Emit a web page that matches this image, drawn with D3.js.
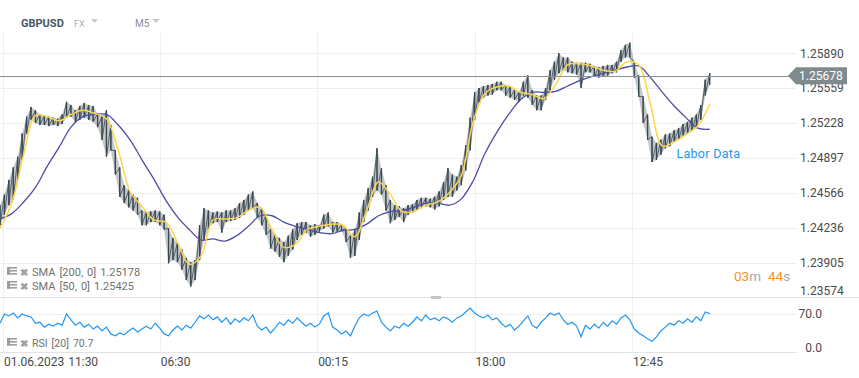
<!DOCTYPE html>
<html>
<head>
<meta charset="utf-8">
<script src="https://cdn.jsdelivr.net/npm/d3@7"></script>
<style>
  body { margin: 0; background: #fff; }
  svg text { font-family: Roboto, "Noto Sans", sans-serif; }
</style>
</head>
<body>
<svg width="859" height="378"></svg>
<script>
// ---- data (GBPUSD, M5) ----
const symbol = "GBPUSD";
const market = "FX";
const interval = "M5";
const lastPrice = 1.25678;
const sma200Last = 1.25178;
const sma50Last = 1.25425;
const rsiLast = 70.7;

const priceTicks = [1.23574, 1.23905, 1.24236, 1.24566, 1.24897, 1.25228, 1.25559, 1.25890];
const rsiTicks = [0, 70];
// candle index of each time label (5-minute candles)
const timeCandles = [4, 216, 429, 642, 855];
const timeLabels = ["01.06.2023", "06:30", "00:15", "18:00", "12:45"];
const startTime = "11:30";

// one sample every 6 candles
const candleStep = 6;
const highs = [
  1.2445, 1.2455, 1.2469, 1.2481, 1.2491, 1.2513, 1.2529, 1.2538, 1.2535, 1.2531,
  1.2530, 1.2529, 1.2528, 1.2527, 1.2531, 1.2543, 1.2540, 1.2535, 1.2539, 1.2542,
  1.2540, 1.2539, 1.2532, 1.2529, 1.2535, 1.2521, 1.2497, 1.2481, 1.2464, 1.2459,
  1.2455, 1.2452, 1.2440, 1.2439, 1.2439, 1.2440, 1.2439, 1.2436, 1.2423, 1.2414,
  1.2409, 1.2403, 1.2395, 1.2391, 1.2393, 1.2426, 1.2442, 1.2440, 1.2438, 1.2439,
  1.2438, 1.2440, 1.2440, 1.2442, 1.2447, 1.2450, 1.2455, 1.2458, 1.2447, 1.2442,
  1.2436, 1.2422, 1.2417, 1.2414, 1.2410, 1.2416, 1.2422, 1.2428, 1.2429, 1.2429,
  1.2426, 1.2427, 1.2426, 1.2436, 1.2438, 1.2429, 1.2429, 1.2427, 1.2423, 1.2416,
  1.2422, 1.2438, 1.2450, 1.2461, 1.2472, 1.2499, 1.2480, 1.2464, 1.2450, 1.2445,
  1.2444, 1.2442, 1.2445, 1.2446, 1.2450, 1.2452, 1.2452, 1.2451, 1.2453, 1.2458,
  1.2467, 1.2480, 1.2474, 1.2472, 1.2483, 1.2502, 1.2528, 1.2552, 1.2556, 1.2558,
  1.2559, 1.2560, 1.2562, 1.2562, 1.2559, 1.2557, 1.2554, 1.2552, 1.2562, 1.2568,
  1.2554, 1.2549, 1.2549, 1.2556, 1.2573, 1.2581, 1.2589, 1.2585, 1.2585, 1.2581,
  1.2580, 1.2580, 1.2580, 1.2579, 1.2577, 1.2576, 1.2577, 1.2578, 1.2578, 1.2581,
  1.2592, 1.2597, 1.2599, 1.2581, 1.2568, 1.2548, 1.2531, 1.2510, 1.2504, 1.2507,
  1.2512, 1.2513, 1.2516, 1.2518, 1.2522, 1.2524, 1.2528, 1.2531, 1.2540, 1.2564,
  1.2570
];
const lows = [
  1.2426, 1.2436, 1.2445, 1.2450, 1.2469, 1.2488, 1.2513, 1.2526, 1.2523, 1.2521,
  1.2521, 1.2520, 1.2521, 1.2520, 1.2522, 1.2528, 1.2529, 1.2524, 1.2526, 1.2528,
  1.2526, 1.2524, 1.2519, 1.2507, 1.2491, 1.2497, 1.2474, 1.2453, 1.2447, 1.2443,
  1.2440, 1.2436, 1.2426, 1.2426, 1.2429, 1.2429, 1.2426, 1.2422, 1.2390, 1.2393,
  1.2391, 1.2384, 1.2374, 1.2368, 1.2374, 1.2393, 1.2412, 1.2422, 1.2428, 1.2429,
  1.2419, 1.2429, 1.2430, 1.2431, 1.2433, 1.2436, 1.2440, 1.2442, 1.2433, 1.2426,
  1.2417, 1.2404, 1.2401, 1.2396, 1.2391, 1.2397, 1.2403, 1.2412, 1.2417, 1.2419,
  1.2415, 1.2417, 1.2420, 1.2423, 1.2425, 1.2419, 1.2420, 1.2421, 1.2410, 1.2395,
  1.2397, 1.2412, 1.2429, 1.2440, 1.2453, 1.2459, 1.2455, 1.2440, 1.2428, 1.2431,
  1.2434, 1.2429, 1.2436, 1.2438, 1.2441, 1.2443, 1.2444, 1.2443, 1.2441, 1.2444,
  1.2450, 1.2453, 1.2453, 1.2459, 1.2464, 1.2478, 1.2497, 1.2526, 1.2542, 1.2547,
  1.2549, 1.2550, 1.2554, 1.2554, 1.2549, 1.2547, 1.2545, 1.2543, 1.2549, 1.2547,
  1.2540, 1.2535, 1.2535, 1.2545, 1.2554, 1.2564, 1.2570, 1.2573, 1.2571, 1.2570,
  1.2569, 1.2556, 1.2571, 1.2571, 1.2567, 1.2566, 1.2567, 1.2568, 1.2570, 1.2571,
  1.2581, 1.2585, 1.2585, 1.2566, 1.2548, 1.2523, 1.2507, 1.2486, 1.2488, 1.2493,
  1.2499, 1.2501, 1.2505, 1.2507, 1.2511, 1.2513, 1.2516, 1.2519, 1.2526, 1.2549,
  1.2559
];
const rsi = [
  51, 70, 66, 72, 62, 70, 66, 64, 51, 53,
  43, 49, 45, 51, 47, 70, 58, 47, 53, 43,
  49, 39, 45, 35, 43, 29, 25, 31, 27, 35,
  41, 33, 39, 45, 39, 51, 41, 29, 25, 37,
  45, 37, 47, 41, 53, 66, 60, 68, 58, 64,
  53, 62, 49, 60, 53, 62, 56, 68, 45, 37,
  43, 31, 41, 53, 47, 58, 51, 62, 53, 45,
  51, 43, 49, 66, 72, 43, 37, 29, 35, 25,
  45, 62, 70, 66, 72, 76, 53, 43, 35, 45,
  41, 51, 45, 53, 64, 56, 68, 58, 62, 56,
  64, 60, 53, 62, 66, 74, 82, 72, 66, 62,
  68, 58, 62, 51, 43, 49, 37, 45, 56, 66,
  47, 41, 53, 62, 72, 68, 72, 58, 49, 53,
  45, 23, 47, 39, 49, 41, 53, 45, 56, 49,
  62, 68, 58, 39, 31, 25, 19, 14, 23, 35,
  43, 51, 47, 56, 51, 60, 53, 64, 56, 74,
  70.7
];

// moving averages, one sample every 16 candles
const smaStep = 16;
const sma50 = [
  1.2423, 1.2447, 1.2493, 1.2530, 1.2529, 1.2525, 1.2531, 1.2535, 1.2532, 1.2527,
  1.2497, 1.2458, 1.2444, 1.2431, 1.2429, 1.2410, 1.2389, 1.2397, 1.2431, 1.2432,
  1.2433, 1.2440, 1.2443, 1.2422, 1.2405, 1.2408, 1.2422, 1.2425, 1.2427, 1.2426,
  1.2415, 1.2440, 1.2467, 1.2455, 1.2439, 1.2439, 1.2445, 1.2448, 1.2457, 1.2473,
  1.2524, 1.2551, 1.2557, 1.2558, 1.2552, 1.2550, 1.2546, 1.2560, 1.2578, 1.2579,
  1.2577, 1.2573, 1.2572, 1.2581, 1.2578, 1.2540, 1.2501, 1.2505, 1.2512, 1.2520,
  1.2541
];
const sma200 = [
  1.2432, 1.2437, 1.2448, 1.2462, 1.2482, 1.2500, 1.2519, 1.2529, 1.2531, 1.2531,
  1.2521, 1.2507, 1.2488, 1.2470, 1.2450, 1.2434, 1.2422, 1.2412, 1.2413, 1.2411,
  1.2416, 1.2425, 1.2435, 1.2435, 1.2429, 1.2425, 1.2422, 1.2419, 1.2418, 1.2421,
  1.2422, 1.2427, 1.2435, 1.2439, 1.2440, 1.2443, 1.2447, 1.2447, 1.2445, 1.2451,
  1.2468, 1.2494, 1.2514, 1.2531, 1.2545, 1.2552, 1.2552, 1.2553, 1.2558, 1.2563,
  1.2567, 1.2570, 1.2573, 1.2576, 1.2577, 1.2566, 1.2552, 1.2539, 1.2528, 1.2518,
  1.2517
];

const eventLabel = { candle: 915, price: 1.2490, text: "Labor Data" };

// ---- layout ----
const svg = d3.select("svg");
const plotRight = 791, gridRight = 797;
const mainTop = 32, mainBottom = 297, rsiBottom = 352;
const candleColor = "#37474f";
const gridColor = "#eeeeee";

const x = d3.scaleLinear().domain([0, 1070]).range([0, plotRight]);
const y = d3.scaleLinear().domain([1.23574, 1.25890]).range([297.6, 53.3]);
const yr = d3.scaleLinear().domain([0, 70]).range([348, 314]);

svg.append("defs").append("clipPath").attr("id", "clipMain")
  .append("rect").attr("x", 0).attr("y", mainTop).attr("width", plotRight).attr("height", mainBottom - mainTop);

// header
const head = svg.append("g");
head.append("text").attr("x", 21).attr("y", 27).attr("font-size", 11).attr("font-weight", "bold")
  .attr("fill", "#455a64").text(symbol);
head.append("text").attr("x", 74).attr("y", 27).attr("font-size", 9).attr("fill", "#a7b1b7").text(market);
head.append("text").attr("x", 135).attr("y", 27).attr("font-size", 10).attr("fill", "#8a8f93").text(interval);
[[91, 98], [152, 160]].forEach(([a, b]) => {
  head.append("path").attr("d", `M${a},19 L${b},19 L${(a + b) / 2},23 Z`).attr("fill", "#c5ccd0");
});

// vertical grid lines (through both panels)
svg.append("g").selectAll("line").data(timeCandles).join("line")
  .attr("x1", d => Math.round(x(d)) + 0.5).attr("x2", d => Math.round(x(d)) + 0.5)
  .attr("y1", mainTop).attr("y2", rsiBottom)
  .attr("stroke", gridColor).attr("stroke-width", 1);

// horizontal grid lines
svg.append("g").selectAll("line").data(priceTicks.slice(1)).join("line")
  .attr("x1", 0).attr("x2", gridRight)
  .attr("y1", d => Math.round(y(d)) + 0.5).attr("y2", d => Math.round(y(d)) + 0.5)
  .attr("stroke", gridColor);

// panel separators
svg.append("line").attr("x1", 0).attr("x2", 859).attr("y1", mainBottom + 0.5).attr("y2", mainBottom + 0.5)
  .attr("stroke", "#e3e3e3");
svg.append("rect").attr("x", 431).attr("y", mainBottom - 1).attr("width", 10).attr("height", 3).attr("fill", "#c4c4c4");
svg.append("line").attr("x1", 0).attr("x2", gridRight).attr("y1", yr(70) + 0.5).attr("y2", yr(70) + 0.5)
  .attr("stroke", gridColor);
svg.append("line").attr("x1", 0).attr("x2", gridRight).attr("y1", rsiBottom + 0.5).attr("y2", rsiBottom + 0.5)
  .attr("stroke", "#e3e3e3");

// price axis labels
svg.append("g").selectAll("text").data(priceTicks).join("text")
  .attr("x", 800).attr("y", d => Math.min(y(d), mainBottom - 6)).attr("dy", "0.35em")
  .attr("font-size", 12).attr("fill", "#4a4a4a")
  .text(d => d3.format(".5f")(d));

// RSI axis labels
svg.append("g").selectAll("text").data(rsiTicks).join("text")
  .attr("x", 822).attr("y", d => yr(d)).attr("dy", "0.35em").attr("text-anchor", "end")
  .attr("font-size", 12).attr("fill", "#4a4a4a")
  .text(d => d3.format(".1f")(d));

// time labels
const tl = svg.append("g").selectAll("text").data(timeCandles).join("text")
  .attr("x", d => x(d) + 1).attr("y", 366)
  .attr("font-size", 12).attr("fill", "#4a4a4a")
  .text((d, i) => timeLabels[i]);
tl.filter((d, i) => i === 0).append("tspan").attr("dx", 4).text(startTime);

// ---- main chart ----
const main = svg.append("g").attr("clip-path", "url(#clipMain)");

// candles: light high-low band, a stroke per sample and a sawtooth through them
const band = highs.map((h, i) => ({ c: i * candleStep, h: h, l: lows[i] }));
main.append("path")
  .attr("d", d3.area().x(d => x(d.c)).y0(d => y(d.l)).y1(d => y(d.h))(band))
  .attr("fill", candleColor).attr("fill-opacity", 0.3);
main.append("g").selectAll("line").data(band).join("line")
  .attr("x1", d => x(d.c)).attr("x2", d => x(d.c))
  .attr("y1", d => y(d.h)).attr("y2", d => y(d.l))
  .attr("stroke", candleColor).attr("stroke-width", 1.3);
const saw = [];
band.forEach(d => { saw.push([d.c, d.h]); saw.push([d.c, d.l]); });
main.append("path")
  .attr("d", d3.line().x(d => x(d[0])).y(d => y(d[1]))(saw))
  .attr("fill", "none").attr("stroke", candleColor).attr("stroke-width", 0.8);

const smaLine = d3.line().x((d, i) => x(i * smaStep)).y(d => y(d)).curve(d3.curveCatmullRom.alpha(0.5));
main.append("path").attr("d", smaLine(sma200))
  .attr("fill", "none").attr("stroke", "#4d4da8").attr("stroke-width", 1.3);
main.append("path").attr("d", smaLine(sma50))
  .attr("fill", "none").attr("stroke", "#fdd54f").attr("stroke-width", 1.5);

// last price line and tag
svg.append("line").attr("x1", 0).attr("x2", 789)
  .attr("y1", Math.round(y(lastPrice)) + 0.5).attr("y2", Math.round(y(lastPrice)) + 0.5)
  .attr("stroke", "#8a9397").attr("stroke-width", 1);
const ty = y(lastPrice);
svg.append("path")
  .attr("d", `M788,${ty} L796,${ty - 8.5} L847,${ty - 8.5} L847,${ty + 8.5} L796,${ty + 8.5} Z`)
  .attr("fill", "#7f8a8e");
svg.append("text").attr("x", 799).attr("y", ty).attr("dy", "0.36em")
  .attr("font-size", 12).attr("fill", "#ffffff").text(d3.format(".5f")(lastPrice));

// event note
svg.append("text").attr("x", x(eventLabel.candle)).attr("y", y(eventLabel.price))
  .attr("font-size", 12.5).attr("fill", "#2196f3").attr("letter-spacing", 0.3).text(eventLabel.text);

// countdown
const cd = svg.append("text").attr("x", 734).attr("y", 281).attr("font-size", 13.5);
cd.append("tspan").attr("fill", "#f7941d").text("03");
cd.append("tspan").attr("fill", "#a8a8a8").text("m");
cd.append("tspan").attr("x", 768).attr("fill", "#f7941d").text("44");
cd.append("tspan").attr("fill", "#a8a8a8").text("s");

// legend
function legendRow(yy, parts, fs) {
  const g = svg.append("g");
  [0, 3, 6].forEach(k => g.append("rect").attr("x", 7).attr("y", yy - 9 + k).attr("width", 10).attr("height", 1.6).attr("fill", "#9e9e9e"));
  g.append("rect").attr("x", 7).attr("y", yy - 9).attr("width", 3).attr("height", 7.6).attr("fill", "#9e9e9e");
  g.append("text").attr("x", 20).attr("y", yy).attr("font-size", 10).attr("font-weight", "bold").attr("fill", "#a0a0a0").text("\u2716");
  const t = g.append("text").attr("x", 32).attr("y", yy).attr("font-size", fs).attr("fill", "#707070");
  parts.forEach((p, k) => t.append("tspan").attr("dx", k === 0 ? 0 : 4).text(p));
}
legendRow(276, ["SMA", "[200,", "0]", d3.format(".5f")(sma200Last)], 11);
legendRow(290, ["SMA", "[50,", "0]", d3.format(".5f")(sma50Last)], 11);
legendRow(347, ["RSI", "[20]", String(rsiLast)], 10.5);

// ---- RSI panel ----
svg.append("path")
  .attr("d", d3.line().x((d, i) => x(i * candleStep)).y(d => yr(d))(rsi))
  .attr("fill", "none").attr("stroke", "#2196f3").attr("stroke-width", 1.2);
</script>
</body>
</html>
